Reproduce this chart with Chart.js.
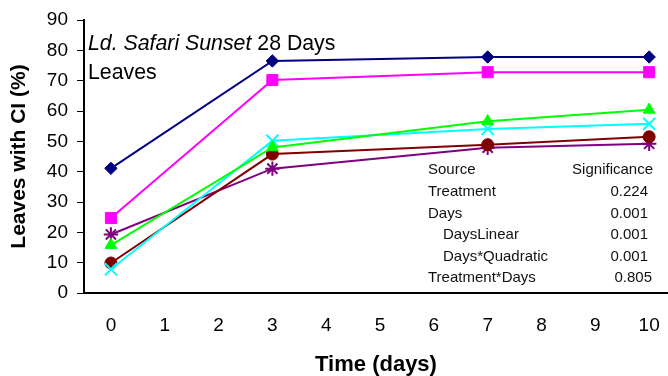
<!DOCTYPE html>
<html>
<head>
<meta charset="utf-8">
<script src="https://cdn.jsdelivr.net/npm/chart.js@4"></script>
<style>
html,body{margin:0;padding:0;background:#fff;}
#wrap{width:668px;height:376px;position:relative;}
</style>
</head>
<body>
<div id="wrap"><canvas id="c" width="668" height="376"></canvas></div>
<script>
const days = [0, 3, 7, 10];
const xTicks = [0, 1, 2, 3, 4, 5, 6, 7, 8, 9, 10];
const yTicks = [0, 10, 20, 30, 40, 50, 60, 70, 80, 90];
const navySeries = [41.1, 76.5, 77.8, 77.8];
const magentaSeries = [24.7, 70.2, 72.8, 72.8];
const greenSeries = [15.8, 48.0, 56.6, 60.4];
const cyanSeries = [7.8, 50.2, 54.1, 55.8];
const maroonSeries = [9.9, 45.8, 48.9, 51.5];
const purpleSeries = [19.3, 41.0, 47.9, 49.2];
const tableSources = ["Treatment", "Days", "DaysLinear", "Days*Quadratic", "Treatment*Days"];
const tableIndent = [false, false, true, true, false];
const tableSignificance = ["0.224", "0.001", "0.001", "0.001", "0.805"];

const FONT = "'Liberation Sans', Arial, sans-serif";

function mk(label, data, color, style, radius) {
  return {
    label: label,
    data: days.map((d, i) => ({x: d, y: data[i]})),
    borderColor: color,
    backgroundColor: color,
    borderWidth: 2,
    pointStyle: style,
    pointRadius: radius,
    pointHoverRadius: radius,
    pointBorderColor: color,
    pointBackgroundColor: color,
    pointBorderWidth: (style === 'crossRot' || style === 'star') ? 2 : 1,
    tension: 0,
    clip: false
  };
}

const annot = {
  id: 'annot',
  afterDraw(chart) {
    const ctx = chart.ctx;
    ctx.save();
    ctx.fillStyle = '#000';
    ctx.textBaseline = 'middle';
    ctx.textAlign = 'left';
    ctx.font = "italic 21.3px " + FONT;
    const t1 = "Ld. Safari Sunset";
    ctx.fillText(t1, 88, 44);
    const w = ctx.measureText(t1).width;
    ctx.font = "21.3px " + FONT;
    ctx.fillText(" 28 Days", 88 + w, 44);
    ctx.fillText("Leaves", 88, 73);

    ctx.font = "15px " + FONT;
    ctx.fillStyle = '#111';
    ctx.fillText("Source", 428, 170);
    ctx.textAlign = 'right';
    ctx.fillText("Significance", 653, 170);
    const ys = [192, 213.5, 235, 257, 278];
    for (let i = 0; i < tableSources.length; i++) {
      ctx.textAlign = 'left';
      ctx.fillText(tableSources[i], tableIndent[i] ? 443 : 428, ys[i]);
      ctx.textAlign = 'right';
      ctx.fillText(tableSignificance[i], i === 4 ? 652 : 648, ys[i]);
    }
    ctx.restore();
  }
};

new Chart(document.getElementById('c'), {
  type: 'line',
  data: {
    datasets: [
      mk('Series 1', navySeries, '#000080', 'rectRot', 6.2),
      mk('Series 2', magentaSeries, '#FF00FF', 'rect', 7.8),
      mk('Series 3', greenSeries, '#00FF00', 'triangle', 6.8),
      mk('Series 4', cyanSeries, '#00FFFF', 'crossRot', 8.5),
      mk('Series 5', maroonSeries, '#800000', 'circle', 6),
      mk('Series 6', purpleSeries, '#800080', 'star', 7.2)
    ]
  },
  options: {
    responsive: false,
    animation: false,
    devicePixelRatio: 1,
    layout: {autoPadding: false, padding: {top: 20, right: 0, left: 0, bottom: 0}},
    plugins: {legend: {display: false}, tooltip: {enabled: false}},
    scales: {
      x: {
        type: 'linear',
        min: -0.5,
        max: 10.35,
        afterBuildTicks: s => { s.ticks = xTicks.map(v => ({value: v})); },
        afterFit: s => { s.height = 83; s.paddingRight = 0; s.paddingLeft = 0; },
        grid: {display: false, drawTicks: false},
        border: {display: true, color: '#000', width: 2},
        ticks: {color: '#000', font: {family: FONT, size: 19}, padding: 21, maxRotation: 0, autoSkip: false},
        title: {display: true, text: 'Time (days)', color: '#000', font: {family: FONT, size: 22, weight: 'bold', lineHeight: 1}, padding: {top: 0, bottom: 0}}
      },
      y: {
        type: 'linear',
        min: 0,
        max: 90,
        afterBuildTicks: s => { s.ticks = yTicks.map(v => ({value: v})); },
        afterFit: s => { s.width = 84; s.paddingTop = 0; s.paddingBottom = 0; },
        grid: {display: true, drawOnChartArea: false, drawTicks: true, tickLength: 7, color: '#000', lineWidth: 1},
        border: {display: true, color: '#000', width: 2},
        ticks: {color: '#000', font: {family: FONT, size: 19}, padding: 9},
        title: {display: true, text: 'Leaves with CI (%)', color: '#000', font: {family: FONT, size: 21, weight: 'bold', lineHeight: 1}, padding: {top: 9, bottom: 0}}
      }
    }
  },
  plugins: [annot]
});
</script>
</body>
</html>
